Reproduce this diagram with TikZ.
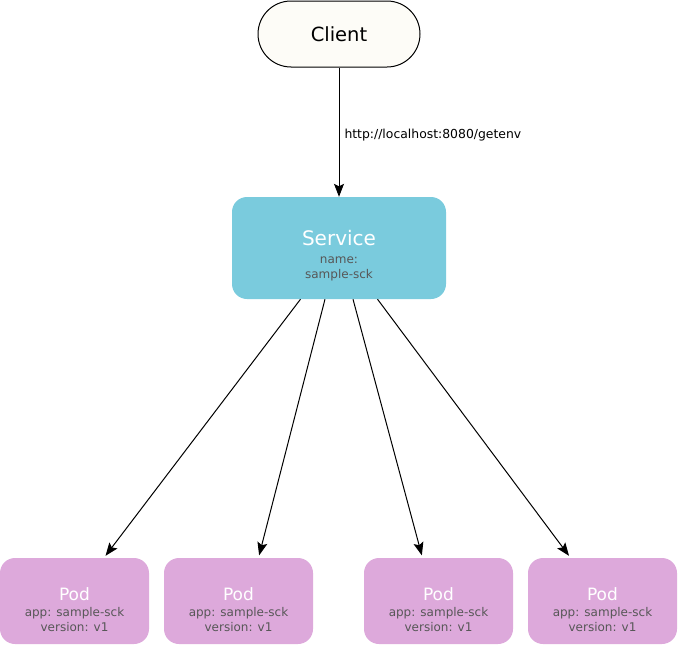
\documentclass[tikz,border=0pt]{standalone}
\usepackage{fontspec}
\setmainfont{DejaVu Sans}
\usetikzlibrary{arrows.meta}
\definecolor{svcblue}{HTML}{7ACBDD}
\definecolor{podpink}{HTML}{DDA9DB}
\definecolor{clientfill}{HTML}{FDFCF7}
\definecolor{subgray}{HTML}{575757}

\begin{document}
\begin{tikzpicture}[x=1pt,y=-1pt,
  clientbox/.style={draw=black,line width=1pt,fill=clientfill,rounded corners=33pt,
    minimum width=162pt,minimum height=66pt,inner sep=0pt,font=\fontsize{19.5}{23}\selectfont},
  svcbox/.style={fill=svcblue,rounded corners=15pt,minimum width=214pt,minimum height=102pt,inner sep=0pt},
  podbox/.style={fill=podpink,rounded corners=15pt,minimum width=149pt,minimum height=86pt,inner sep=0pt},
  boxtext/.style={align=center,inner sep=0pt,text=subgray,font=\fontsize{12}{15}\selectfont},
  conn/.style={line width=1pt,-{Stealth[length=13pt,width=10pt,inset=2.5pt]},shorten >=2.5pt}]
  \useasboundingbox (0,0) rectangle (678,645);
  \node[clientbox] (client) at (339,34) {Client};
  \node[svcbox] (svc) at (339,248) {};
  \node[boxtext,font=\fontsize{12}{14.5}\selectfont] (svctxt) at (339,255.5)
    {{\color{white}\fontsize{20}{24}\selectfont Service}\\[3.5pt]name:\\sample-sck};
  \node[podbox] (pod1) at (74.5,601) {};
  \node[podbox] (pod2) at (238.5,601) {};
  \node[podbox] (pod3) at (438.5,601) {};
  \node[podbox] (pod4) at (602.5,601) {};
  \node[boxtext] (pod1txt) at (74.5,609.5) {{\color{white}\fontsize{17}{19}\selectfont Pod}\\[1pt]app: sample-sck\\version: v1};
  \node[boxtext] (pod2txt) at (238.5,609.5) {{\color{white}\fontsize{17}{19}\selectfont Pod}\\[1pt]app: sample-sck\\version: v1};
  \node[boxtext] (pod3txt) at (438.5,609.5) {{\color{white}\fontsize{17}{19}\selectfont Pod}\\[1pt]app: sample-sck\\version: v1};
  \node[boxtext] (pod4txt) at (602.5,609.5) {{\color{white}\fontsize{17}{19}\selectfont Pod}\\[1pt]app: sample-sck\\version: v1};
  \draw[conn,shorten >=0pt] (client.south) -- (svc.north)
    node[pos=0.52,right=5pt,inner sep=0pt,font=\fontsize{12.4}{14}\selectfont] (url) {http://localhost:8080/getenv};
  \draw[conn] ([xshift=-38.5pt]svc.south) -- ([xshift=29.5pt]pod1.north);
  \draw[conn] ([xshift=-14pt]svc.south) -- ([xshift=20pt]pod2.north);
  \draw[conn] ([xshift=14pt]svc.south) -- ([xshift=-16pt]pod3.north);
  \draw[conn] ([xshift=38.5pt]svc.south) -- ([xshift=-32pt]pod4.north);
\end{tikzpicture}
\end{document}
